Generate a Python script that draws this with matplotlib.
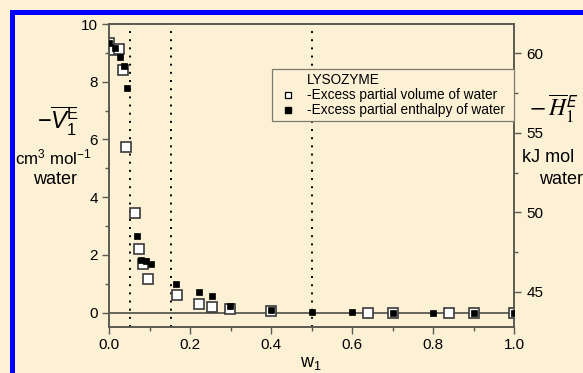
import matplotlib
matplotlib.use("Agg")
import matplotlib.pyplot as plt
from matplotlib.lines import Line2D
from matplotlib.patches import Rectangle
from matplotlib.ticker import MultipleLocator

plt.rcParams['font.family'] = ['Liberation Sans', 'DejaVu Sans']
plt.rcParams['mathtext.fontset'] = 'custom'
plt.rcParams['mathtext.rm'] = 'Liberation Sans'
plt.rcParams['mathtext.it'] = 'Liberation Sans:italic'
plt.rcParams['mathtext.bf'] = 'Liberation Sans:bold'

# ---- data ----
w_vol = [0.0, 0.013, 0.025, 0.034, 0.043, 0.064, 0.075, 0.085, 0.097, 0.167,
         0.223, 0.254, 0.299, 0.40, 0.64, 0.70, 0.84, 0.90, 1.0]
v_vol = [9.35, 9.11, 9.14, 8.42, 5.74, 3.44, 2.19, 1.67, 1.16, 0.61,
         0.28, 0.18, 0.12, 0.05, 0.0, 0.0, 0.0, 0.0, 0.0]

w_enth = [0.0, 0.015, 0.026, 0.037, 0.045, 0.068, 0.079, 0.091, 0.104, 0.165,
          0.223, 0.254, 0.299, 0.40, 0.50, 0.60, 0.70, 0.80, 0.90, 1.0]
h_enth = [60.67, 60.32, 59.79, 59.20, 57.80, 48.51, 47.04, 46.93, 46.79, 45.48,
          45.0, 44.73, 44.10, 43.85, 43.77, 43.72, 43.70, 43.70, 43.70, 43.70]

vline_w = [0.052, 0.154, 0.5]
x_ticks = [0.0, 0.2, 0.4, 0.6, 0.8, 1.0]
left_ticks = [0, 2, 4, 6, 8, 10]
right_ticks = [45, 50, 55, 60]
legend_title = "LYSOZYME"
label_vol = "-Excess partial volume of water"
label_enth = "-Excess partial enthalpy of water"

BG = '#FDF1D5'
SPINE = '#5a5a52'
W, H = 583, 373

fig = plt.figure(figsize=(W / 100, H / 100), dpi=100)
fig.patch.set_facecolor(BG)

# blue frame (top & left)
fig.add_artist(Rectangle((10 / W, 0), 5 / W, 1 - 10 / H, transform=fig.transFigure,
                         facecolor='#0000FF', edgecolor='none'))
fig.add_artist(Rectangle((10 / W, 1 - 15 / H), 1, 5 / H, transform=fig.transFigure,
                         facecolor='#0000FF', edgecolor='none'))

ax = fig.add_axes([109 / W, 1 - 327 / H, 405 / W, 303 / H])
ax.set_facecolor(BG)
ax.set_xlim(0, 1.0)
ax.set_ylim(-0.5, 10)

for x in vline_w:
    ax.axvline(x, color='black', lw=1.4, ls=(0, (1, 3.2)), zorder=1)
ax.axhline(0, color=SPINE, lw=1.3, zorder=1)

ax.plot(w_vol, v_vol, linestyle='none', marker='s', markersize=7.0,
        markerfacecolor='white', markeredgecolor='#3a3a3a', markeredgewidth=1.2, zorder=3)

ax.set_xticks(x_ticks)
ax.set_xticklabels([f"{t:.1f}" for t in x_ticks])
ax.set_yticks(left_ticks)
ax.xaxis.set_minor_locator(MultipleLocator(0.1))
ax.yaxis.set_minor_locator(MultipleLocator(1))
ax.tick_params(which='both', direction='out', color=SPINE, width=1.0, labelsize=11, pad=3)
ax.tick_params(which='major', length=5)
ax.tick_params(which='minor', length=3)
ax.tick_params(axis='y', right=False)
for s in ax.spines.values():
    s.set_color(SPINE)
    s.set_linewidth(1.2)

ax2 = ax.twinx()
ax2.set_ylim(42.80, 61.84)
ax2.plot(w_enth, h_enth, linestyle='none', marker='s', markersize=4.8,
         markerfacecolor='black', markeredgecolor='black', markeredgewidth=0.5, zorder=4)
ax2.set_yticks(right_ticks)
ax2.yaxis.set_minor_locator(MultipleLocator(2.5))
ax2.tick_params(which='both', direction='out', color=SPINE, width=1.0, labelsize=11, pad=4)
ax2.tick_params(which='major', length=5)
ax2.tick_params(which='minor', length=3)
for s in ax2.spines.values():
    s.set_color(SPINE)
    s.set_linewidth(1.2)

handles = [Line2D([], [], linestyle='none', marker=None),
           Line2D([], [], linestyle='none', marker='s', markersize=5,
                  markerfacecolor='white', markeredgecolor='black', markeredgewidth=0.9),
           Line2D([], [], linestyle='none', marker='s', markersize=5,
                  markerfacecolor='black', markeredgecolor='black')]
leg = ax2.legend(handles, [legend_title, label_vol, label_enth],
                 loc='upper left', bbox_to_anchor=(0.402, 0.68, 0.598, 0.171),
                 mode='expand', borderaxespad=0, fontsize=9.8, frameon=True,
                 fancybox=False, edgecolor='#7a7a70', facecolor=BG, framealpha=1,
                 handlelength=1.8, handletextpad=0.45, labelspacing=0.08,
                 borderpad=0.3)
leg.get_frame().set_linewidth(0.9)

# axis labels
fig.text(311 / W, 1 - 363 / H, r'$\mathrm{w}_1$', fontsize=13, ha='center', va='center')
fig.text(58 / W, 1 - 121 / H, r'$-\overline{V}_{\mathrm{1}}^{\mathrm{E}}$', fontsize=17,
         ha='center', va='center')
fig.text(53 / W, 1 - 157 / H, r'cm$^3$ mol$^{-1}$', fontsize=12.2, ha='center', va='center')
fig.text(55 / W, 1 - 180 / H, 'water', fontsize=13, ha='center', va='center')

fig.text(529 / W, 1 - 125 / H, r'$-\,\overline{H}_1^{\mathsf{E}}$', fontsize=17,
         ha='left', va='bottom', math_fontfamily='stix')
fig.text(522 / W, 1 - 157 / H, 'kJ mol', fontsize=13, ha='left', va='center')
fig.text(539 / W, 1 - 180 / H, 'water', fontsize=13, ha='left', va='center')

fig.savefig('out.png', dpi=100, facecolor=BG)
